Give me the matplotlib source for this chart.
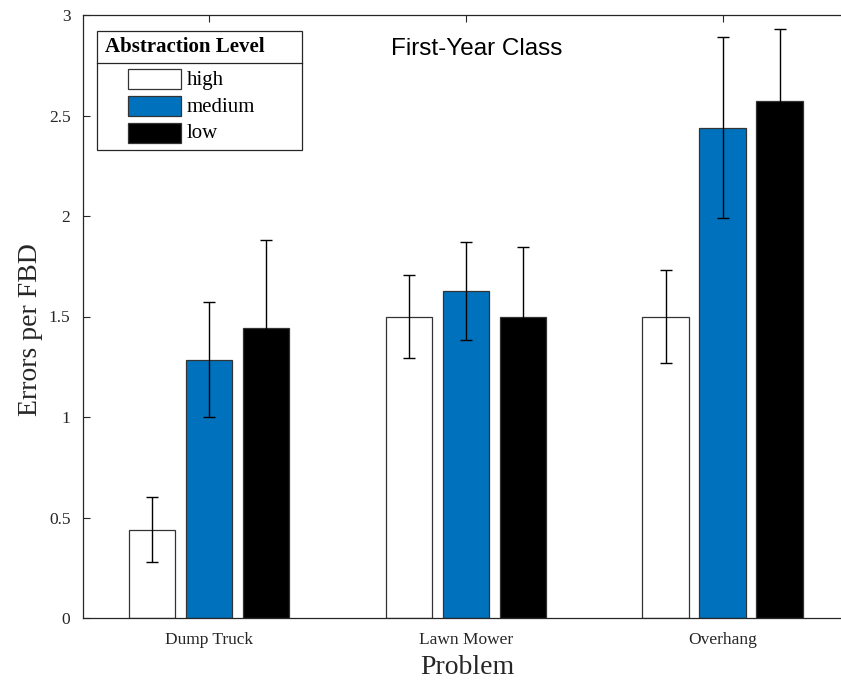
import matplotlib
matplotlib.use("Agg")
import matplotlib.pyplot as plt
from matplotlib.lines import Line2D
from matplotlib.patches import Rectangle
import numpy as np

problems = ["Dump Truck", "Lawn Mower", "Overhang"]
levels = ["high", "medium", "low"]

high = [0.44, 1.50, 1.50]
high_err = [0.16, 0.205, 0.23]
medium = [1.286, 1.627, 2.44]
medium_err = [0.288, 0.242, 0.45]
low = [1.442, 1.50, 2.57]
low_err = [0.437, 0.347, 0.36]

colors = ["white", "#0072BD", "black"]
axis_gray = "#262626"
W, H = 841, 684

plt.rcParams["font.family"] = ["Liberation Serif", "DejaVu Serif"]

fig = plt.figure(figsize=(W / 100, H / 100), dpi=100)
ax = fig.add_axes([83 / W, 66 / H, 768 / W, 603 / H])

x = np.arange(1, len(problems) + 1)
width = 0.18
step = 0.222
series = [(high, high_err), (medium, medium_err), (low, low_err)]
for i, ((vals, errs), lvl, col) in enumerate(zip(series, levels, colors)):
    pos = x + (i - 1) * step
    ax.bar(pos, vals, width, color=col, edgecolor="#333333", linewidth=0.9,
           label=lvl, zorder=2)
    ax.errorbar(pos, vals, yerr=errs, fmt="none", ecolor="black", elinewidth=1.0,
                capsize=4, capthick=1.0, zorder=3)

ax.set_xlim(0.51, 3.5)
ax.set_ylim(0, 3)
ax.set_xticks(x)
ax.set_xticklabels(problems, fontsize=12.5)
yt = np.arange(0, 3.01, 0.5)
ax.set_yticks(yt)
ax.set_yticklabels([f"{v:g}" for v in yt], fontsize=12.5)
ax.tick_params(direction="in", length=5, width=0.8, color=axis_gray,
               labelcolor=axis_gray, top=True, right=False)
ax.tick_params(axis="x", pad=10)
ax.tick_params(axis="y", pad=9)
for sp in ax.spines.values():
    sp.set_color(axis_gray)
    sp.set_linewidth(0.9)
ax.spines["right"].set_visible(False)

ax.set_xlabel("Problem", fontsize=20, color=axis_gray, labelpad=5)
ax.set_ylabel("Errors per FBD", fontsize=20, color=axis_gray)
ax.yaxis.set_label_coords(-0.052, 0.479)

ax.text(0.513, 0.944, "First-Year Class", transform=ax.transAxes,
        ha="center", va="center", fontsize=17.5,
        family=["Liberation Sans", "DejaVu Sans"], color="black")


# legend box laid out in pixel units from the top-left of the figure
def fx(px):
    return px / W


def fy(py):
    return 1 - py / H


tf = fig.transFigure
fig.add_artist(Rectangle((fx(97), fy(150)), fx(302) - fx(97), fy(31) - fy(150),
                         transform=tf, facecolor="white", edgecolor=axis_gray,
                         linewidth=0.9, zorder=5))
fig.text(fx(105), fy(47.5), "Abstraction Level", fontsize=15, fontweight="bold",
         ha="left", va="center", color="black", zorder=6)
fig.add_artist(Line2D([fx(97), fx(302)], [fy(62.5), fy(62.5)], transform=tf,
                      color=axis_gray, linewidth=0.9, zorder=6))
for k, (lvl, col) in enumerate(zip(levels, colors)):
    yc = 79 + 27 * k
    fig.add_artist(Rectangle((fx(128), fy(yc + 10)), fx(181) - fx(128), fy(yc - 10) - fy(yc + 10),
                             transform=tf, facecolor=col, edgecolor="#333333",
                             linewidth=0.9, zorder=6))
    fig.text(fx(187), fy(yc + 1), lvl, fontsize=15, ha="left", va="center",
             color="black", zorder=6)

fig.savefig("out.png", dpi=100)
